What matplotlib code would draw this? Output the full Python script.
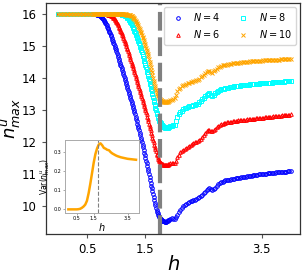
import numpy as np
import matplotlib.pyplot as plt

# sampling grid of h: plateau, drop (fine), recovery tail
h = np.concatenate([np.linspace(0, 0.575, 24),
                    np.linspace(0.60, 1.89, 130),
                    np.linspace(1.90, 4.00, 85)])

flat = [16.0] * 24

n4_drop = [16.00, 16.00, 16.00, 16.00, 15.99, 15.99, 15.98, 15.98, 15.97, 15.96,
           15.95, 15.94, 15.93, 15.92, 15.90, 15.88, 15.86, 15.84, 15.81, 15.78,
           15.75, 15.72, 15.68, 15.64, 15.60, 15.56, 15.52, 15.48, 15.43, 15.39,
           15.34, 15.30, 15.25, 15.20, 15.15, 15.10, 15.05, 15.00, 14.94, 14.89,
           14.83, 14.78, 14.72, 14.66, 14.60, 14.54, 14.48, 14.42, 14.36, 14.30,
           14.24, 14.18, 14.12, 14.06, 14.00, 13.94, 13.88, 13.82, 13.76, 13.70,
           13.63, 13.57, 13.50, 13.44, 13.38, 13.31, 13.25, 13.19, 13.13, 13.06,
           13.00, 12.93, 12.86, 12.79, 12.72, 12.65, 12.57, 12.50, 12.43, 12.36,
           12.29, 12.22, 12.14, 12.07, 12.00, 11.92, 11.84, 11.75, 11.67, 11.58,
           11.50, 11.42, 11.34, 11.25, 11.17, 11.08, 11.00, 10.91, 10.82, 10.73,
           10.64, 10.55, 10.46, 10.37, 10.28, 10.19, 10.10, 10.02, 9.94, 9.88,
           9.82, 9.77, 9.73, 9.69, 9.66, 9.63, 9.61, 9.59, 9.57, 9.55,
           9.54, 9.53, 9.52, 9.51, 9.51, 9.50, 9.51, 9.52, 9.54, 9.56]
n4_tail = [9.57, 9.60, 9.62, 9.61, 9.60, 9.65, 9.72, 9.80, 9.88, 9.94, 9.99, 10.04,
           10.08, 10.11, 10.13, 10.15, 10.17, 10.18, 10.20, 10.22, 10.24, 10.27, 10.31, 10.35,
           10.40, 10.45, 10.50, 10.53, 10.55, 10.53, 10.51, 10.54, 10.58, 10.63, 10.68, 10.71,
           10.74, 10.76, 10.78, 10.80, 10.81, 10.82, 10.83, 10.84, 10.85, 10.86, 10.87, 10.88,
           10.89, 10.89, 10.90, 10.91, 10.92, 10.92, 10.93, 10.94, 10.95, 10.95, 10.96, 10.96,
           10.97, 10.98, 10.99, 10.99, 11.00, 11.00, 11.01, 11.01, 11.02, 11.02, 11.03, 11.03,
           11.04, 11.04, 11.05, 11.05, 11.06, 11.06, 11.06, 11.07, 11.07, 11.07, 11.08, 11.08,
           11.09]

n6_drop = [16.0] * 24 + [
           15.99, 15.99, 15.98, 15.98, 15.97, 15.96,
           15.95, 15.94, 15.93, 15.92, 15.90, 15.88, 15.86, 15.84, 15.81, 15.78,
           15.75, 15.72, 15.68, 15.64, 15.60, 15.56, 15.52, 15.48, 15.43, 15.39,
           15.34, 15.30, 15.25, 15.20, 15.15, 15.10, 15.05, 15.00, 14.94, 14.89,
           14.83, 14.78, 14.72, 14.66, 14.60, 14.54, 14.48, 14.42, 14.36, 14.30,
           14.24, 14.18, 14.12, 14.06, 14.00, 13.94, 13.88, 13.82, 13.76, 13.70,
           13.63, 13.57, 13.50, 13.44, 13.38, 13.31, 13.25, 13.19, 13.13, 13.06,
           13.00, 12.93, 12.86, 12.79, 12.72, 12.65, 12.57, 12.50, 12.43, 12.36,
           12.29, 12.22, 12.14, 12.07, 12.00, 11.92, 11.85, 11.78, 11.71, 11.64,
           11.58, 11.53, 11.48, 11.44, 11.41, 11.38, 11.36, 11.34, 11.32, 11.31,
           11.30, 11.29, 11.28, 11.28, 11.27, 11.27, 11.27, 11.28, 11.29, 11.30]
n6_tail = [11.32, 11.34, 11.36, 11.36, 11.35, 11.42, 11.52, 11.60, 11.68, 11.72, 11.76, 11.79,
           11.82, 11.86, 11.89, 11.92, 11.95, 11.97, 11.99, 12.01, 12.03, 12.07, 12.11, 12.16,
           12.22, 12.28, 12.33, 12.36, 12.38, 12.35, 12.33, 12.37, 12.41, 12.46, 12.50, 12.53,
           12.55, 12.57, 12.59, 12.60, 12.61, 12.62, 12.63, 12.64, 12.65, 12.66, 12.67, 12.67,
           12.68, 12.68, 12.69, 12.69, 12.70, 12.70, 12.71, 12.71, 12.72, 12.72, 12.73, 12.73,
           12.74, 12.74, 12.75, 12.75, 12.76, 12.76, 12.77, 12.77, 12.78, 12.78, 12.79, 12.79,
           12.80, 12.80, 12.81, 12.81, 12.82, 12.82, 12.83, 12.83, 12.84, 12.84, 12.85, 12.85,
           12.86]

n8_drop = [16.0] * 46 + [
           15.99, 15.99, 15.99, 15.98, 15.98, 15.98,
           15.97, 15.96, 15.95, 15.94, 15.93, 15.92, 15.90, 15.88, 15.86, 15.84,
           15.81, 15.78, 15.75, 15.72, 15.68, 15.64, 15.60, 15.56,
           15.52, 15.48, 15.43, 15.39, 15.34, 15.29, 15.24, 15.19, 15.14, 15.09,
           15.03, 14.98, 14.92, 14.86, 14.80, 14.74, 14.67, 14.61, 14.54, 14.48,
           14.41, 14.34, 14.27, 14.20, 14.13, 14.06, 13.98, 13.90, 13.82, 13.74,
           13.66, 13.58, 13.49, 13.41, 13.32, 13.24, 13.15, 13.07, 12.99, 12.92,
           12.86, 12.80, 12.75, 12.70, 12.66, 12.62, 12.59, 12.56, 12.54, 12.52,
           12.50, 12.48, 12.47, 12.46, 12.45, 12.44, 12.44, 12.44, 12.45, 12.46]
n8_tail = [12.47, 12.49, 12.51, 12.52, 12.53, 12.65, 12.78, 12.86, 12.93, 12.98, 13.02, 13.05,
           13.07, 13.09, 13.11, 13.13, 13.14, 13.16, 13.17, 13.18, 13.20, 13.24, 13.28, 13.33,
           13.38, 13.43, 13.48, 13.50, 13.52, 13.48, 13.45, 13.48, 13.52, 13.56, 13.60, 13.62,
           13.64, 13.66, 13.67, 13.68, 13.69, 13.70, 13.71, 13.72, 13.73, 13.74, 13.75, 13.75,
           13.76, 13.76, 13.77, 13.77, 13.78, 13.78, 13.79, 13.79, 13.80, 13.80, 13.81, 13.81,
           13.81, 13.82, 13.82, 13.83, 13.83, 13.83, 13.84, 13.84, 13.84, 13.85, 13.85, 13.85,
           13.86, 13.86, 13.86, 13.87, 13.87, 13.87, 13.88, 13.88, 13.89, 13.89, 13.89, 13.90,
           13.90]

n10_drop = [16.0] * 54 + [
            15.99, 15.99, 15.99, 15.98, 15.98, 15.98, 15.97, 15.97,
            15.96, 15.96, 15.95, 15.94, 15.93, 15.92, 15.90, 15.88, 15.86, 15.84,
            15.81, 15.78, 15.75, 15.72, 15.68, 15.64, 15.60, 15.56,
            15.52, 15.48, 15.43, 15.39, 15.34, 15.29, 15.24, 15.19, 15.13, 15.07,
            15.01, 14.95, 14.88, 14.81, 14.74, 14.67, 14.59, 14.51, 14.43, 14.35,
            14.26, 14.18, 14.09, 14.00, 13.92, 13.84, 13.76, 13.69, 13.62, 13.56,
            13.51, 13.47, 13.43, 13.40, 13.37, 13.34, 13.32, 13.30, 13.29, 13.28,
            13.27, 13.26, 13.26, 13.25, 13.25, 13.25, 13.25, 13.25, 13.26, 13.27]
n10_tail = [13.28, 13.30, 13.32, 13.34, 13.38, 13.48, 13.58, 13.65, 13.70, 13.74, 13.77, 13.79,
            13.81, 13.83, 13.85, 13.87, 13.88, 13.90, 13.91, 13.93, 13.95, 13.98, 14.02, 14.06,
            14.10, 14.15, 14.19, 14.21, 14.23, 14.20, 14.17, 14.21, 14.25, 14.29, 14.33, 14.35,
            14.37, 14.39, 14.40, 14.41, 14.42, 14.43, 14.44, 14.45, 14.46, 14.46, 14.47, 14.47,
            14.48, 14.48, 14.49, 14.49, 14.50, 14.50, 14.51, 14.51, 14.52, 14.52, 14.52, 14.53,
            14.53, 14.53, 14.54, 14.54, 14.54, 14.55, 14.55, 14.55, 14.55, 14.56, 14.56, 14.56,
            14.56, 14.57, 14.57, 14.57, 14.57, 14.58, 14.58, 14.58, 14.58, 14.59, 14.59, 14.59,
            14.59]

# inset: variance of n^u_max
h_var = [0.0, 0.1, 0.2, 0.3, 0.4, 0.5, 0.6, 0.7, 0.8, 0.9,
         1.0, 1.1, 1.2, 1.3, 1.4, 1.5, 1.6, 1.7, 1.8, 1.9,
         2.0, 2.1, 2.2, 2.3, 2.4, 2.5, 2.6, 2.7, 2.8, 2.9,
         3.0, 3.1, 3.2, 3.3, 3.4, 3.5, 3.6, 3.7, 3.8, 3.9, 4.0]
var_n = [0.000, 0.000, 0.000, 0.000, 0.000, 0.000, 0.001, 0.003, 0.008, 0.015,
         0.025, 0.045, 0.085, 0.135, 0.190, 0.245, 0.290, 0.320, 0.340, 0.346,
         0.336, 0.322, 0.318, 0.312, 0.310, 0.300, 0.293, 0.288, 0.283, 0.279,
         0.276, 0.273, 0.271, 0.269, 0.267, 0.265, 0.264, 0.263, 0.262, 0.261, 0.260]

h_c = 1.75  # dashed line

series = [
    ("$N=4$", flat + n4_drop + n4_tail, "o", "blue"),
    ("$N=6$", flat + n6_drop + n6_tail, "^", "red"),
    ("$N=8$", flat + n8_drop + n8_tail, "s", "cyan"),
    ("$N=10$", flat + n10_drop + n10_tail, "x", "orange"),
]

fig = plt.figure(figsize=(3.05, 2.73), dpi=100)
ax = fig.add_axes([0.151, 0.143, 0.833, 0.846])

for label, vals, mk, col in series:
    if mk == "x":
        ax.plot(h, vals, ls="none", marker=mk, color=col, ms=2.6, mew=0.7, label=label)
    else:
        ax.plot(h, vals, ls="none", marker=mk, mfc="none", mec=col, ms=2.6, mew=0.7, label=label)

ax.axvline(h_c, color="gray", ls=(0, (4.5, 1.6)), lw=3)

ax.set_xlim(-0.21, 4.16)
ax.set_ylim(9.13, 16.34)
ax.set_xticks([0.5, 1.5, 3.5])
ax.set_xticklabels(["0.5", "1.5", "3.5"])
ax.set_yticks([10, 11, 12, 13, 14, 15, 16])
ax.tick_params(labelsize=8.5, length=3, color="#555555")
for s in ax.spines.values():
    s.set_color("#333333")
    s.set_linewidth(0.9)

ax.set_xlabel("$h$", fontsize=14, labelpad=-1)
ax.set_ylabel(r"$\overline{n^u_{max}}$", fontsize=13, labelpad=0)

ax.legend(loc="upper right", ncol=2, fontsize=7, handlelength=1.8,
          handletextpad=0.7, columnspacing=1.5, borderpad=0.45,
          labelspacing=0.5, borderaxespad=0.4, edgecolor="#cccccc")

# inset
axin = fig.add_axes([0.213, 0.221, 0.244, 0.266])
axin.plot(h_var, var_n, color="orange", lw=1.8)
axin.axvline(h_c, color="gray", ls="--", lw=0.8)
axin.set_xticks([0.5, 1.5, 3.5])
axin.set_xticklabels(["0.5", "1.5", "3.5"])
axin.set_yticks([0.0, 0.1, 0.2, 0.3])
axin.set_yticklabels(["0.0", "0.1", "0.2", "0.3"])
axin.tick_params(labelsize=3.5, length=1.5, width=0.5, pad=1, color="#888888")
for s in axin.spines.values():
    s.set_color("#aaaaaa")
    s.set_linewidth(0.7)
axin.set_xlabel("$h$", fontsize=7, labelpad=0)
axin.set_ylabel(r"Var($n^u_{max}$)", fontsize=5.5, labelpad=1)

fig.savefig("out.png", dpi=100)
